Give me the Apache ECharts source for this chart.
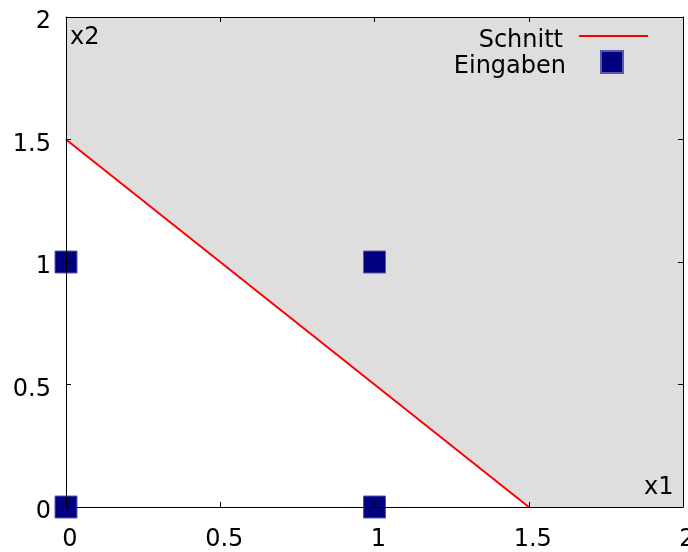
<!DOCTYPE html>
<html>
<head>
<meta charset="utf-8">
<script src="https://cdn.jsdelivr.net/npm/echarts@6/dist/echarts.min.js"></script>
<style>
  html, body { margin: 0; padding: 0; background: #fff; }
  #chart { width: 688px; height: 552px; }
</style>
</head>
<body>
<div id="chart"></div>
<script>
// Axis ranges and ticks
const xTicks = [0, 0.5, 1, 1.5, 2];
const yTicks = [0, 0.5, 1, 1.5, 2];

// Decision line x1 + x2 = 1.5 ("Schnitt")
const schnittX = [0, 1.5];
const schnittY = [1.5, 0];

// Input points ("Eingaben")
const eingabenX1 = [0, 0, 1, 1];
const eingabenX2 = [0, 1, 0, 1];

// Boundary of the shaded half-plane above the line (filled up to the top of the y axis)
const regionX = [0, 1.5, 2];
const regionY = [1.5, 0, 0];

const FONT = 'DejaVu Sans';
const FS = 24;

const chart = echarts.init(document.getElementById('chart'), null, { renderer: 'canvas' });

const pairs = (xs, ys) => xs.map((x, i) => [x, ys[i]]);

// rich-text token style; padding nudges the glyphs inside their box
const tok = (padding) => ({ color: '#000', fontFamily: FONT, fontSize: FS, padding: padding });

const baseAxis = {
  type: 'value',
  min: 0,
  max: 2,
  interval: 0.5,
  z: 10,
  splitLine: { show: false },
  axisLine: { show: true, onZero: false, lineStyle: { color: '#000', width: 1 } },
  axisTick: { show: true, inside: true, length: 5, lineStyle: { color: '#000', width: 1 } }
};

chart.setOption({
  animation: false,
  backgroundColor: '#fff',
  grid: { left: 66, top: 17, width: 617, height: 490, containLabel: false, outerBoundsMode: 'none' },
  xAxis: [
    Object.assign({}, baseAxis, {
      position: 'bottom',
      axisLabel: {
        show: true, margin: 33, verticalAlign: 'middle',
        formatter: v => xTicks.includes(v) ? '{v|' + v + '}' : '',
        rich: { v: tok([0, 0, 0, 8]) }
      }
    }),
    Object.assign({}, baseAxis, { position: 'top', axisLabel: { show: false } })
  ],
  yAxis: [
    Object.assign({}, baseAxis, {
      position: 'left',
      axisLabel: {
        show: true, margin: 15, verticalAlign: 'middle',
        formatter: v => yTicks.includes(v) ? '{v|' + v + '}' : '',
        rich: { v: tok([10, 0, 0, 0]) }
      }
    }),
    Object.assign({}, baseAxis, { position: 'right', axisLabel: { show: false } })
  ],
  legend: [
    {
      data: [{ name: 'Schnitt', icon: 'rect', itemStyle: { color: '#ff0000' } }],
      orient: 'vertical',
      align: 'right',
      right: 35,
      top: 24,
      itemWidth: 69,
      itemHeight: 2,
      selectedMode: false,
      formatter: name => '{t|' + name + '}',
      textStyle: { rich: { t: tok([10, 11, 0, 0]) } }
    },
    {
      data: [{ name: 'Eingaben', icon: 'rect' }],
      orient: 'vertical',
      align: 'right',
      right: 59,
      top: 45,
      itemWidth: 22,
      itemHeight: 22,
      selectedMode: false,
      formatter: name => '{t|' + name + '}',
      textStyle: { rich: { t: tok([10, 30, 0, 0]) } }
    }
  ],
  graphic: [
    { type: 'text', left: 70, top: 26, z: 20,
      style: { text: 'x2', font: FS + 'px "' + FONT + '"', fill: '#000' } },
    { type: 'text', left: 644, top: 476, z: 20,
      style: { text: 'x1', font: FS + 'px "' + FONT + '"', fill: '#000' } }
  ],
  series: [
    {
      name: 'region',
      type: 'line',
      data: pairs(regionX, regionY),
      symbol: 'none',
      silent: true,
      z: 1,
      lineStyle: { width: 0, color: '#dedede' },
      areaStyle: { color: '#dedede', opacity: 1, origin: 'end' }
    },
    {
      name: 'Schnitt',
      type: 'line',
      data: pairs(schnittX, schnittY),
      symbol: 'none',
      showSymbol: false,
      z: 3,
      lineStyle: { color: '#ff0000', width: 2 },
      itemStyle: { color: '#ff0000' }
    },
    {
      name: 'Eingaben',
      type: 'scatter',
      data: pairs(eingabenX1, eingabenX2),
      symbol: 'rect',
      symbolSize: 22,
      clip: false,
      z: 4,
      itemStyle: { color: '#000080', borderColor: '#5a5aaa', borderWidth: 1, opacity: 1 }
    }
  ]
});
</script>
</body>
</html>
